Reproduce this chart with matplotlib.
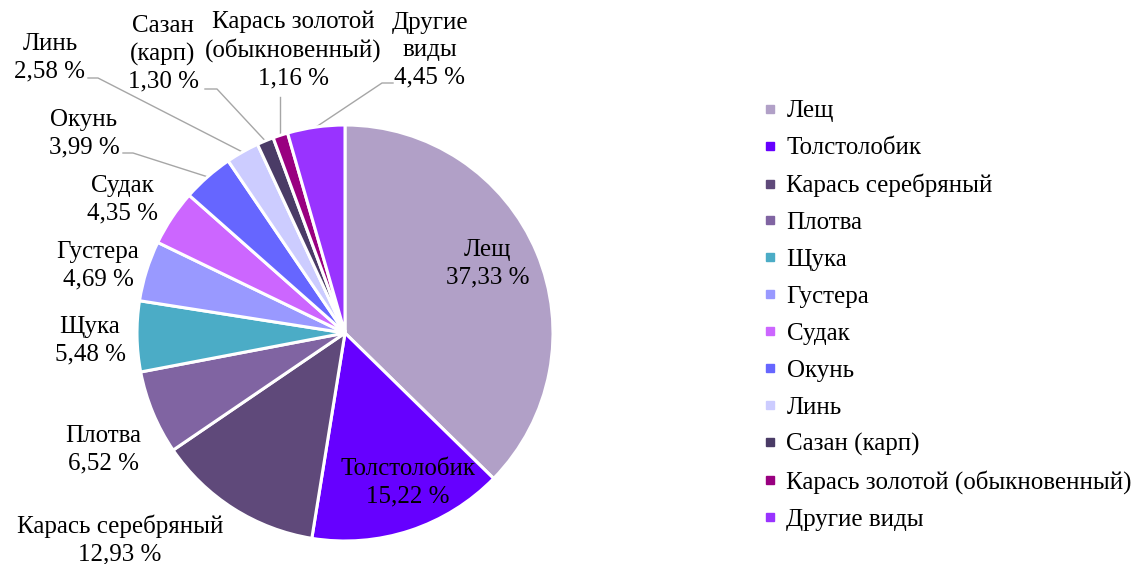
import numpy as np
import matplotlib
matplotlib.use("Agg")
import matplotlib.pyplot as plt
from matplotlib.lines import Line2D

plt.rcParams['font.family'] = ['Liberation Serif', 'DejaVu Serif']

species = ["Лещ", "Толстолобик", "Карась серебряный", "Плотва", "Щука", "Густера",
           "Судак", "Окунь", "Линь", "Сазан (карп)", "Карась золотой (обыкновенный)", "Другие виды"]
label_names = ["Лещ", "Толстолобик", "Карась серебряный", "Плотва", "Щука", "Густера",
               "Судак", "Окунь", "Линь", "Сазан\n(карп)", "Карась золотой\n(обыкновенный)", "Другие\nвиды"]
shares = [37.33, 15.22, 12.93, 6.52, 5.48, 4.69, 4.35, 3.99, 2.58, 1.30, 1.16, 4.45]
colors = ["#B1A0C7", "#6600FF", "#5F497A", "#8064A2", "#4BACC6", "#9999FF",
          "#CC66FF", "#6666FF", "#CCCCFF", "#4A3B66", "#990080", "#9933FF"]

W, H = 1136, 564
CX, CY, R = 345, 333, 208   # pie centre / radius in pixels (layout)

fig = plt.figure(figsize=(W / 100, H / 100), dpi=100)
ax = fig.add_axes([(CX - R) / W, (H - CY - R) / H, 2 * R / W, 2 * R / H])

wedges, _ = ax.pie(shares, colors=colors, startangle=90, counterclock=False, radius=1,
                   wedgeprops=dict(edgecolor='white', linewidth=2.2))
ax.set_xlim(-1, 1)
ax.set_ylim(-1, 1)
ax.set_aspect('equal')
ax.axis('off')

def px2d(px, py):
    return (px - CX) / R, (CY - py) / R

FS = 18
# label block centres (pixels) - layout
label_pos = [(488, 264), (408, 483), (120, 540), (103, 450), (90, 341), (98, 266),
             (122, 200), (84, 134), (50, 58), (163, 54), (293, 50), (430, 50)]
# leader line start / elbow (pixels)
leaders = {7: [(123, 153), (133, 153)],
           8: [(88, 78), (98, 78)],
           9: [(205, 89), (217, 89)],
           10: [(279, 97)],
           11: [(393, 83), (382, 83)]}

for i, w in enumerate(wedges):
    txt = f"{label_names[i]}\n{shares[i]:.2f} %".replace('.', ',')
    x, y = px2d(*label_pos[i])
    ax.text(x, y, txt, ha='center', va='center', fontsize=FS, linespacing=1.3,
            clip_on=False, color='#000000')
    if i in leaders:
        mid = np.deg2rad((w.theta1 + w.theta2) / 2)
        ex, ey = np.cos(mid), np.sin(mid)
        pts = [px2d(*p) for p in leaders[i]] + [(ex, ey)]
        xs, ys = zip(*pts)
        if i == 10:
            xs = (ex, ex)
        ax.plot(xs, ys, color='#A6A6A6', lw=1.0, clip_on=False, zorder=0)

handles = [Line2D([], [], marker='s', linestyle='', color=c, markersize=5.5) for c in colors]
fig.legend(handles, species, loc='upper left', bbox_to_anchor=(764 / W, 1 - 100 / H),
           frameon=False, fontsize=FS, labelspacing=0.575, handlelength=0.5,
           handletextpad=0.4, borderpad=0, borderaxespad=0)

fig.savefig("out.png", dpi=100)
